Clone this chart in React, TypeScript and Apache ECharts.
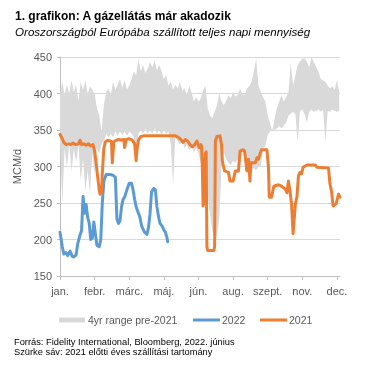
import React, { useEffect, useRef } from 'react';
import * as echarts from 'echarts';

const monthTicks = [0, 45, 90, 135, 180, 225, 270, 315, 360];
const monthLabels = ['jan.', 'febr.', 'márc.', 'máj.', 'jún.', 'aug.', 'szept.', 'nov.', 'dec.'];

const bandDays = [0, 3, 6, 9, 12, 15, 18, 21, 24, 27, 30, 33, 36, 39, 42, 45, 48, 51, 54, 57, 60, 63, 66, 69, 72, 75, 78, 81, 84, 87, 90, 93, 96, 99, 102, 105, 108, 111, 114, 117, 120, 123, 126, 129, 132, 135, 138, 141, 144, 147, 150, 153, 156, 159, 162, 165, 168, 171, 174, 177, 180, 183, 186, 189, 192, 195, 198, 201, 204, 207, 210, 213, 216, 219, 222, 225, 228, 231, 234, 237, 240, 243, 246, 249, 252, 255, 258, 261, 264, 267, 270, 273, 276, 279, 282, 285, 288, 291, 294, 297, 300, 303, 306, 309, 312, 315, 318, 321, 324, 327, 330, 333, 336, 339, 342, 345, 348, 351, 354, 357, 360, 363];
const bandHigh = [400, 416, 398, 412, 400, 418, 402, 412, 390, 416, 405, 418, 400, 410, 405, 400, 380, 370, 348, 385, 402, 407, 398, 416, 405, 412, 420, 408, 418, 405, 411, 420, 430, 425, 448, 430, 439, 428, 434, 443, 436, 445, 432, 439, 430, 420, 425, 411, 416, 405, 412, 407, 416, 404, 407, 398, 411, 402, 389, 395, 389, 393, 405, 411, 380, 370, 366, 375, 384, 400, 389, 384, 390, 398, 393, 402, 396, 398, 407, 400, 398, 407, 410, 416, 430, 448, 411, 402, 395, 389, 370, 360, 348, 366, 380, 389, 398, 389, 395, 402, 441, 411, 425, 439, 444, 448, 448, 443, 436, 450, 443, 436, 430, 420, 418, 416, 411, 407, 410, 405, 418, 402];
const bandLow = [335, 250, 325, 300, 330, 293, 325, 305, 330, 280, 310, 266, 295, 262, 318, 290, 325, 318, 330, 335, 345, 340, 345, 340, 348, 342, 348, 343, 348, 342, 348, 345, 340, 307, 345, 350, 345, 352, 345, 350, 345, 352, 345, 350, 343, 350, 345, 348, 330, 275, 340, 335, 330, 335, 325, 330, 322, 328, 320, 325, 318, 305, 300, 280, 260, 235, 212, 200, 205, 230, 300, 320, 310, 305, 302, 308, 305, 310, 300, 320, 318, 300, 295, 292, 298, 295, 300, 300, 325, 328, 343, 348, 352, 350, 352, 355, 352, 356, 360, 370, 372, 375, 372, 334, 376, 378, 372, 360, 375, 378, 375, 376, 378, 375, 378, 334, 376, 375, 378, 376, 375, 376];

const days2022 = [0, 3, 5, 8, 10, 13, 16, 18, 21, 23, 26, 28, 30, 32, 34, 36, 38, 40, 42, 44, 46, 48, 51, 53, 55, 57, 60, 65, 69, 72, 74, 76, 78, 80, 82, 84, 87, 90, 93, 95, 97, 99, 102, 104, 106, 108, 110, 113, 115, 117, 119, 122, 124, 126, 128, 130, 133, 135, 137, 139, 140];
const values2022 = [210, 190, 180, 182, 178, 184, 177, 176, 179, 194, 206, 212, 259, 236, 248, 230, 222, 200, 202, 224, 208, 192, 190, 200, 250, 280, 289, 289, 288, 285, 228, 222, 226, 245, 255, 258, 268, 277, 277, 268, 255, 245, 236, 230, 219, 214, 210, 207, 216, 235, 265, 270, 268, 245, 232, 222, 218, 213, 210, 203, 197];

const days2021 = [0, 3, 5, 8, 11, 14, 17, 20, 24, 26, 28, 31, 34, 37, 40, 43, 45, 47, 49, 51, 52, 54, 55, 57, 59, 62, 65, 67, 68, 70, 73, 77, 80, 83, 84, 86, 90, 94, 97, 99, 100, 102, 105, 110, 120, 130, 140, 150, 154, 157, 160, 163, 166, 169, 172, 175, 178, 181, 183, 184, 185, 186, 187, 188, 189, 190, 191, 192, 200, 201, 202, 204, 208, 210, 211, 212, 214, 219, 221, 225, 228, 232, 234, 238, 240, 243, 245, 247, 248, 254, 256, 258, 260, 262, 269, 271, 272, 275, 278, 284, 288, 293, 295, 297, 299, 301, 303, 306, 308, 310, 312, 314, 316, 321, 332, 334, 349, 351, 353, 355, 359, 362, 364];
const values2021 = [344, 338, 333, 330, 331, 330, 332, 330, 331, 336, 330, 331, 329, 331, 328, 330, 321, 305, 285, 268, 262, 265, 290, 325, 334, 336, 335, 334, 305, 334, 336, 337, 336, 337, 326, 337, 338, 336, 331, 308, 322, 336, 341, 342, 342, 342, 342, 342, 340, 337, 333, 337, 335, 330, 327, 330, 335, 326, 330, 328, 300, 246, 250, 305, 318, 320, 190, 185, 185, 190, 335, 341, 342, 330, 308, 303, 294, 292, 280, 280, 294, 294, 321, 323, 321, 294, 310, 280, 305, 305, 312, 310, 317, 323, 323, 299, 258, 258, 273, 275, 273, 269, 264, 280, 266, 249, 208, 249, 258, 287, 292, 290, 299, 302, 302, 299, 298, 276, 266, 246, 249, 262, 258];

const FONT = '"Liberation Sans", Arial, sans-serif';
const GRAY = '#d9d9d9';
const BLUE = '#5b9bd5';
const ORANGE = '#ed7d31';
const LABEL = '#595959';

export default function App() {
  const ref = useRef<HTMLDivElement>(null);
  useEffect(() => {
    if (!ref.current) return;
    const chart = echarts.init(ref.current, undefined, { renderer: 'svg' });
    const s2022 = days2022.map((d, i) => [d, values2022[i]]);
    const s2021 = days2021.map((d, i) => [d, values2021[i]]);
    chart.setOption({
      animation: false,
      textStyle: { fontFamily: FONT },
      grid: { left: 60, right: 35, top: 57, bottom: 94, containLabel: false },
      xAxis: {
        type: 'value',
        min: 0,
        max: 364,
        interval: 45,
        axisLine: { show: true, lineStyle: { color: '#bfbfbf', width: 1 } },
        axisTick: { show: true, length: 4, customValues: monthTicks, lineStyle: { color: '#bfbfbf' } },
        axisLabel: {
          customValues: monthTicks,
          color: LABEL,
          fontSize: 11,
          margin: 9,
          fontFamily: FONT,
          formatter: (v: number) => {
            const i = monthTicks.indexOf(v);
            return i >= 0 ? monthLabels[i] : '';
          },
        },
        splitLine: { show: false },
      },
      yAxis: {
        type: 'value',
        min: 150,
        max: 450,
        interval: 50,
        name: 'MCM/d',
        nameLocation: 'middle',
        nameGap: 38,
        nameTextStyle: { color: LABEL, fontSize: 11, fontFamily: FONT },
        axisLine: { show: true, lineStyle: { color: '#bfbfbf', width: 1 } },
        axisTick: { show: true, length: 3, lineStyle: { color: '#bfbfbf' } },
        axisLabel: { color: LABEL, fontSize: 11, margin: 8, fontFamily: FONT },
        splitLine: { show: true, lineStyle: { color: GRAY, width: 1 } },
      },
      series: [
        {
          name: '4yr range pre-2021',
          type: 'custom',
          silent: true,
          data: [[0, 0]],
          z: 1,
          renderItem: (_params: any, api: any) => {
            const pts: number[][] = [];
            for (let i = 0; i < bandDays.length; i++) pts.push(api.coord([bandDays[i], bandHigh[i]]));
            for (let i = bandDays.length - 1; i >= 0; i--) pts.push(api.coord([bandDays[i], bandLow[i]]));
            return { type: 'polygon', shape: { points: pts }, style: { fill: GRAY } };
          },
        },
        {
          name: '2022',
          type: 'line',
          data: s2022,
          symbol: 'none',
          lineStyle: { color: BLUE, width: 3, join: 'round', cap: 'round' },
          z: 3,
        },
        {
          name: '2021',
          type: 'line',
          data: s2021,
          symbol: 'none',
          lineStyle: { color: ORANGE, width: 3, join: 'round', cap: 'round' },
          z: 4,
        },
      ],
      graphic: [
        { type: 'text', x: 15, y: 16, style: { text: '1. grafikon: A gázellátás már akadozik', fontFamily: FONT, fontSize: 12, fontWeight: 'bold', fill: '#000', verticalAlign: 'middle' } },
        { type: 'text', x: 15, y: 31, style: { text: 'Oroszországból Európába szállított teljes napi mennyiség', fontFamily: FONT, fontSize: 11.6, fontStyle: 'italic', fill: '#000', verticalAlign: 'middle' } },
        { type: 'rect', shape: { x: 59, y: 317.5, width: 26, height: 5 }, style: { fill: GRAY } },
        { type: 'text', x: 88, y: 320, style: { text: '4yr range pre-2021', fontFamily: FONT, fontSize: 10.5, fill: LABEL, verticalAlign: 'middle' } },
        { type: 'line', shape: { x1: 193, y1: 320, x2: 220, y2: 320 }, style: { stroke: BLUE, lineWidth: 3 } },
        { type: 'text', x: 222, y: 320, style: { text: '2022', fontFamily: FONT, fontSize: 10.5, fill: LABEL, verticalAlign: 'middle' } },
        { type: 'line', shape: { x1: 260, y1: 320, x2: 287, y2: 320 }, style: { stroke: ORANGE, lineWidth: 3 } },
        { type: 'text', x: 289, y: 320, style: { text: '2021', fontFamily: FONT, fontSize: 10.5, fill: LABEL, verticalAlign: 'middle' } },
        { type: 'text', x: 14, y: 342, style: { text: 'Forrás: Fidelity International, Bloomberg, 2022. június', fontFamily: FONT, fontSize: 9.3, fill: '#000', verticalAlign: 'middle' } },
        { type: 'text', x: 14, y: 351.5, style: { text: 'Szürke sáv: 2021 előtti éves szállítási tartomány', fontFamily: FONT, fontSize: 9.3, fill: '#000', verticalAlign: 'middle' } },
      ],
    });
    return () => chart.dispose();
  }, []);
  return <div ref={ref} style={{ position: 'fixed', left: 0, top: 0, width: 375, height: 370 }} />;
}
